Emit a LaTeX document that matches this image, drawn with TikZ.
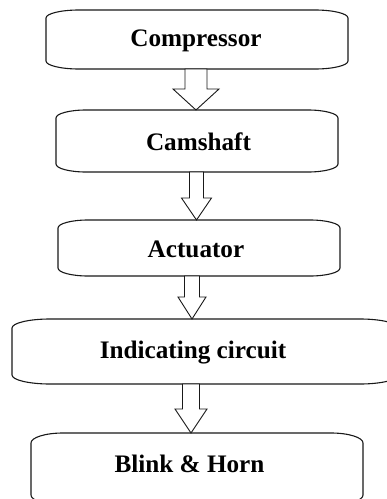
\documentclass[tikz,border=0pt]{standalone}
\usepackage{fontspec}
\setmainfont{Liberation Serif}
\usetikzlibrary{calc}
\tikzset{
  boxn/.style={draw=none, inner sep=0pt, outer sep=0pt},
  boxline/.style={draw=black!90, line width=1.1pt, line join=round},
  arrline/.style={draw=black!90, line width=0.9pt, line join=miter, fill=white},
  lbl/.style={anchor=base, inner sep=0pt, font=\fontsize{25.2}{30}\selectfont\bfseries, text=black}
}
% name, cx, cy, w, h, corner-x, corner-y
\newcommand\termbox[7]{%
  \node[boxn, minimum width=#4, minimum height=#5] (#1) at (#2,#3) {};
  \draw[boxline] ([xshift=#6]#1.north west) -- ([xshift=-#6]#1.north east)
    arc[start angle=90, end angle=0, x radius=#6, y radius=#7]
    -- ([yshift=#7]#1.south east)
    arc[start angle=0, end angle=-90, x radius=#6, y radius=#7]
    -- ([xshift=#6]#1.south west)
    arc[start angle=270, end angle=180, x radius=#6, y radius=#7]
    -- ([yshift=-#7]#1.north west)
    arc[start angle=180, end angle=90, x radius=#6, y radius=#7] -- cycle;
}
% from, to, x-offset from "from" centre, x-offset from "to" centre, shaft half, head half, head length
\newcommand\blockarrow[7]{%
  \coordinate (#1-#2-s) at ([xshift=#3]#1.south);
  \coordinate (#1-#2-t) at ([xshift=#4]#2.north);
  \draw[arrline] ($(#1-#2-s)+(-#5,0)$) -- ($(#1-#2-t)+(-#5,#7)$) -- ($(#1-#2-t)+(-#6,#7)$)
    -- (#1-#2-t) -- ($(#1-#2-t)+(#6,#7)$) -- ($(#1-#2-t)+(#5,#7)$) -- ($(#1-#2-s)+(#5,0)$) -- cycle;
}
\begin{document}
\begin{tikzpicture}[x=1pt, y=1pt]
\useasboundingbox (0,0) rectangle (387,-499);
\clip (0,0) rectangle (387,-499);
\fill[white] (0,0) rectangle (387,-499);

\termbox{b1}{197}{-39.5}{302pt}{59pt}{33pt}{8pt}
\termbox{b2}{197}{-141}{282pt}{62pt}{30pt}{8pt}
\termbox{b3}{199}{-248}{282pt}{56pt}{30pt}{8pt}
\termbox{b4}{205}{-351.5}{386pt}{65pt}{38pt}{9pt}
\termbox{b5}{197}{-469}{332pt}{72pt}{32pt}{10pt}

\node[lbl] (t1) at (196,-46.5) {Compressor};
\node[lbl] (t2) at (198.5,-150) {Camshaft};
\node[lbl] (t3) at (196,-257.3) {Actuator};
\node[lbl] (t4) at (193,-358.3) {Indicating circuit};
\node[lbl] (t5) at (189.5,-472.7) {Blink \& Horn};

\blockarrow{b1}{b2}{-1pt}{-1pt}{11}{23}{21}
\blockarrow{b2}{b3}{-0.5pt}{-2.5pt}{7}{15}{22}
\blockarrow{b3}{b4}{-7pt}{-13pt}{7.5}{14}{22}
\blockarrow{b4}{b5}{-14pt}{-6pt}{8.5}{16}{24}
\end{tikzpicture}
\end{document}
